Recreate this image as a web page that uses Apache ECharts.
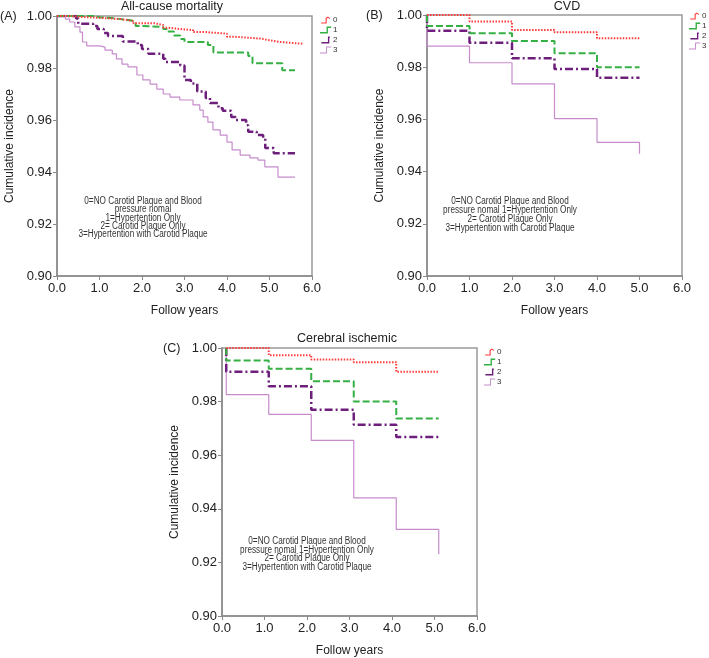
<!DOCTYPE html>
<html>
<head>
<meta charset="utf-8">
<script src="https://cdn.jsdelivr.net/npm/echarts@6/dist/echarts.min.js"></script>
<style>
html,body{margin:0;padding:0;background:#fff;}
#main{width:709px;height:658px;}
</style>
</head>
<body>
<div id="main"></div>
<script>
// ---------- data ----------
const groupNames = ['0', '1', '2', '3'];
const xTicks = [0, 1, 2, 3, 4, 5, 6];
const yTicks = [0.90, 0.92, 0.94, 0.96, 0.98, 1.00];
const panelTitles = ['All-cause mortality', 'CVD', 'Cerebral ischemic'];
const panelLabels = ['(A)', '(B)', '(C)'];

// (A) All-cause mortality  [years, cumulative]
const allCause0 = [[0,1],[0.3,0.9997],[0.5,0.9993],[1.0,0.9988],[1.5,0.9981],[1.8,0.9972],[2.3,0.9965],[2.5,0.9955],[2.6,0.9950],[2.9,0.9946],[3.2,0.9938],[3.5,0.9932],[4.0,0.9920],[4.2,0.9913],[4.8,0.9907],[5.0,0.9900],[5.25,0.9893],[5.8,0.9893]];
const allCause1 = [[0,1],[0.9,0.9995],[1.0,0.9992],[1.3,0.9988],[1.5,0.9983],[1.75,0.9977],[1.85,0.9962],[2.0,0.9958],[2.5,0.9950],[2.6,0.9940],[2.75,0.9925],[2.9,0.9912],[3.0,0.9900],[3.55,0.9888],[3.68,0.9860],[4.5,0.9846],[4.6,0.9818],[5.3,0.9791],[5.6,0.9791]];
const allCause2 = [[0,1],[0.45,0.9990],[0.5,0.9970],[0.85,0.9962],[0.95,0.9950],[1.1,0.9935],[1.2,0.9923],[1.55,0.9902],[1.9,0.9888],[2.0,0.9873],[2.15,0.9855],[2.5,0.9836],[2.55,0.9823],[2.9,0.9810],[3.0,0.9754],[3.15,0.9740],[3.3,0.9710],[3.5,0.9685],[3.6,0.9665],[3.8,0.9645],[3.9,0.9636],[4.1,0.9612],[4.2,0.9600],[4.45,0.9580],[4.5,0.9555],[4.7,0.9542],[4.85,0.9530],[4.9,0.9492],[5.1,0.9472],[5.6,0.9472]];
const allCause3 = [[0,1],[0.2,0.9988],[0.3,0.9977],[0.42,0.9958],[0.54,0.9938],[0.6,0.9900],[0.7,0.9885],[1.0,0.9880],[1.13,0.9869],[1.3,0.9854],[1.4,0.9835],[1.53,0.9815],[1.67,0.9804],[1.88,0.9773],[2.02,0.9754],[2.19,0.9738],[2.35,0.9719],[2.5,0.9700],[2.66,0.9688],[2.89,0.9677],[3.2,0.9658],[3.36,0.9638],[3.44,0.9612],[3.55,0.9592],[3.67,0.9562],[3.84,0.9542],[4.0,0.9515],[4.12,0.9485],[4.31,0.9465],[4.54,0.9454],[4.73,0.9446],[4.89,0.9420],[5.2,0.9380],[5.6,0.9380]];

// (B) CVD
const cvd0 = [[0,1],[1,0.9975],[2,0.9943],[3,0.9934],[4,0.9911],[5,0.9911]];
const cvd1 = [[0,1],[0,0.9958],[1,0.9930],[2,0.9900],[3,0.9853],[4,0.9800],[5,0.9800]];
const cvd2 = [[0,1],[0,0.9940],[1,0.9894],[2,0.9834],[3,0.9793],[4,0.9760],[5,0.9760]];
const cvd3 = [[0,1],[0,0.9881],[1,0.9817],[2,0.9736],[3,0.9603],[4,0.9512],[5,0.9512],[5,0.9468]];

// (C) Cerebral ischemic
const cere0 = [[0.1,1],[1.1,0.9973],[2.1,0.9957],[3.1,0.9947],[4.1,0.9911],[5.1,0.9911]];
const cere1 = [[0.1,1],[0.1,0.9953],[1.1,0.9923],[2.1,0.9876],[3.1,0.9800],[4.1,0.9737],[5.1,0.9737]];
const cere2 = [[0.1,1],[0.1,0.9911],[1.1,0.9857],[2.1,0.9770],[3.1,0.9714],[4.1,0.9668],[5.1,0.9668]];
const cere3 = [[0.1,1],[0.1,0.9826],[1.1,0.9752],[2.1,0.9655],[3.1,0.9441],[4.1,0.9323],[5.1,0.9323],[5.1,0.9230]];

const noteA = ['0=NO Carotid Plaque and Blood', 'pressure nomal', '1=Hypertention Only', '2= Carotid Plaque Only', '3=Hypertention with Carotid Plaque'];
const noteBC = ['0=NO Carotid Plaque and Blood', 'pressure nomal 1=Hypertention Only', '2= Carotid Plaque Only', '3=Hypertention with Carotid Plaque'];

// ---------- styles ----------
const FONT = "'Liberation Sans', Arial, sans-serif";
const colors = ['#ff3b3b', '#35b044', '#6e1f7c', '#c68ccc'];
const lineStyles = [
  {color: colors[0], width: 2, type: [1.5, 1.5]},
  {color: colors[1], width: 2, type: [7, 3]},
  {color: colors[2], width: 2.5, type: [8, 3, 2, 3]},
  {color: colors[3], width: 1.2, type: 'solid'}
];
// small step-shaped legend glyphs
const legendIcons = [
  'path://M0,8 L6,8 L6,2 L9,0 L12,2 L12,3.5 L9,1.8 L7.5,3 L7.5,9.5 L0,9.5 Z',
  'path://M0,8 L7,8 L7,2 L12,2 L12,3.5 L8.5,3.5 L8.5,9.5 L0,9.5 Z',
  'path://M0,8 L7,8 L7,2 L9,2 L9,3.5 L8.5,3.5 L8.5,9.5 L0,9.5 Z',
  'path://M0,8.5 L6.5,8.5 L6.5,2 L12,2 L12,3 L7.5,3 L7.5,9.5 L0,9.5 Z'
];

const grids = [
  {left: 57, top: 16, width: 255, height: 260},
  {left: 427, top: 15, width: 255, height: 261},
  {left: 222, top: 348, width: 255, height: 269}
];

const axisLine = {show: true, lineStyle: {color: '#8a8a8a', width: 1.5}};
const xAxes = grids.map((g, i) => ({
  type: 'value', gridIndex: i, min: xTicks[0], max: xTicks[xTicks.length - 1], interval: 1,
  axisLine: axisLine, axisTick: {show: true, length: 4, lineStyle: {color: '#8a8a8a'}},
  splitLine: {show: false},
  axisLabel: {formatter: v => v.toFixed(1), color: '#222', fontSize: 13, fontFamily: FONT, margin: 6},
  name: 'Follow years', nameLocation: 'middle', nameGap: 29,
  nameTextStyle: {color: '#222', fontSize: 12, fontFamily: FONT}
}));
const yAxes = grids.map((g, i) => ({
  type: 'value', gridIndex: i, min: yTicks[0], max: yTicks[yTicks.length - 1], interval: 0.02,
  axisLine: axisLine, axisTick: {show: true, length: 4, lineStyle: {color: '#8a8a8a'}},
  splitLine: {show: false},
  axisLabel: {formatter: v => v.toFixed(2), color: '#222', fontSize: 13, fontFamily: FONT, margin: 5},
  name: 'Cumulative incidence', nameLocation: 'middle', nameGap: 41, nameRotate: 90,
  nameTextStyle: {color: '#222', fontSize: 12, fontFamily: FONT}
}));

const panelData = [
  [allCause0, allCause1, allCause2, allCause3],
  [cvd0, cvd1, cvd2, cvd3],
  [cere0, cere1, cere2, cere3]
];
const series = [];
panelData.forEach((arr, p) => {
  arr.forEach((d, k) => {
    series.push({
      type: 'line', name: groupNames[k], xAxisIndex: p, yAxisIndex: p,
      data: d, step: 'end', symbol: 'none', showSymbol: false,
      lineStyle: lineStyles[k], itemStyle: {color: colors[k]},
      z: 10 - k, animation: false
    });
  });
});

const legendPos = [{left: 320, top: 16}, {left: 689, top: 12}, {left: 484, top: 348}];
const legends = legendPos.map(pos => ({
  data: groupNames.map((n, k) => ({name: n, icon: legendIcons[k]})),
  orient: 'vertical', left: pos.left, top: pos.top,
  itemWidth: 13, itemHeight: 7, itemGap: 2, padding: 0,
  itemStyle: {borderWidth: 0},
  textStyle: {fontSize: 8, color: '#333', fontFamily: FONT, padding: [0, 0, 0, -4]}
}));

const titles = [
  {text: panelTitles[0], left: 172, top: 0, textAlign: 'center'},
  {text: panelTitles[1], left: 567, top: 0, textAlign: 'center'},
  {text: panelTitles[2], left: 347, top: 332, textAlign: 'center'},
  {text: panelLabels[0], left: 0, top: 10},
  {text: panelLabels[1], left: 366, top: 9},
  {text: panelLabels[2], left: 163, top: 342}
].map(t => Object.assign({padding: 0, textStyle: {fontSize: 12.5, fontWeight: 'normal', color: '#222', fontFamily: FONT}}, t));

function note(lines, cx, top, lh) {
  return {
    type: 'text', x: cx, y: top, scaleX: 0.82,
    style: {
      text: lines.join('\n'), align: 'center', verticalAlign: 'top',
      fontSize: 10, lineHeight: lh, fill: '#333', fontFamily: FONT
    }
  };
}

const option = {
  backgroundColor: '#fff',
  animation: false,
  title: titles,
  legend: legends,
  grid: grids.map(g => Object.assign({show: true, borderColor: '#9a9a9a', borderWidth: 1.5, backgroundColor: 'transparent'}, g)),
  xAxis: xAxes,
  yAxis: yAxes,
  series: series,
  graphic: [
    note(noteA, 143, 197, 8.3),
    note(noteBC, 510, 197, 8.8),
    note(noteBC, 307, 537, 8.5)
  ]
};

const chart = echarts.init(document.getElementById('main'), null, {renderer: 'canvas'});
chart.setOption(option);
</script>
</body>
</html>
